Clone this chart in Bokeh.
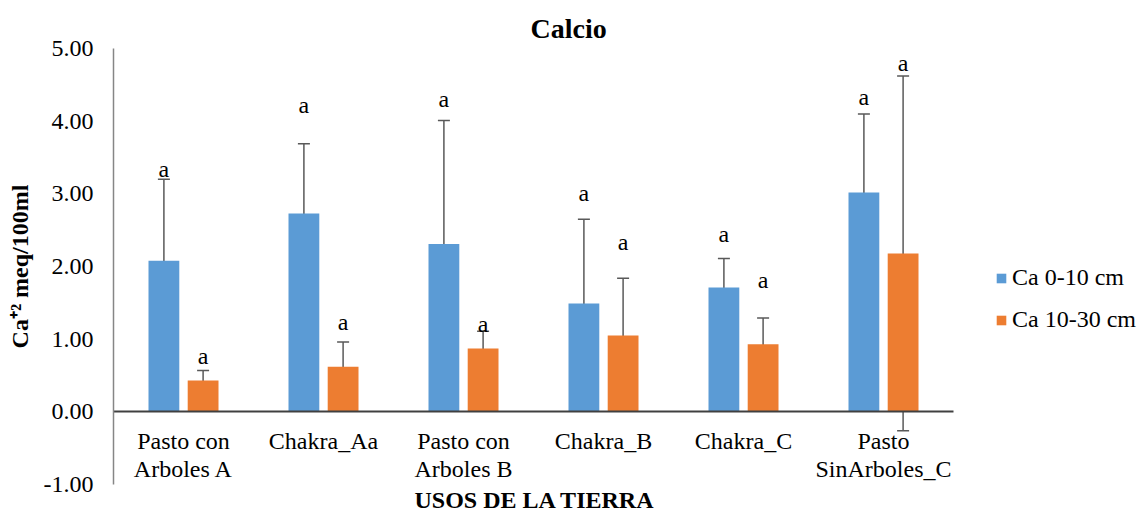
from bokeh.plotting import figure
from bokeh.models import (Range1d, FixedTicker, NumeralTickFormatter, Whisker,
                          ColumnDataSource, Title, Legend, TeeHead)
from bokeh.transform import dodge
from bokeh.core.properties import value
from bokeh.embed import file_html
from bokeh.resources import INLINE

# ---- data ----
categories = ["Pasto con\nArboles A", "Chakra_Aa", "Pasto con\nArboles B",
              "Chakra_B", "Chakra_C", "Pasto\nSinArboles_C"]
ca_0_10 = [2.08, 2.73, 2.31, 1.49, 1.71, 3.02]
ca_0_10_sd = [1.12, 0.96, 1.70, 1.16, 0.40, 1.08]
ca_10_30 = [0.43, 0.62, 0.87, 1.05, 0.93, 2.18]
ca_10_30_sd = [0.14, 0.34, 0.24, 0.79, 0.36, 2.44]
letters_0_10 = ["a", "a", "a", "a", "a", "a"]
letters_10_30 = ["a", "a", "a", "a", "a", "a"]
letter_y_0_10 = [3.32, 4.19, 4.28, 2.98, 2.42, 4.31]
letter_y_10_30 = [0.74, 1.21, 1.18, 2.31, 1.78, 4.77]
y_ticks = [-1, 0, 1, 2, 3, 4, 5]
series_names = ["Ca 0-10 cm", "Ca 10-30 cm"]

FONT = "Liberation Serif"
BLUE = "#5B9BD5"
ORANGE = "#ED7D31"
ERR = "#595959"

W_TOTAL, H_TOTAL = 1139, 513
LEFT, TOP, BOTTOM = 113, 48, 29
PLOT_W = 840  # width used by the categories

n = len(categories)
centers = [i + 0.5 for i in range(n)]
frame_w = W_TOTAL - LEFT
x_end = n * frame_w / PLOT_W

src = ColumnDataSource(dict(
    x=centers,
    v1=ca_0_10, v2=ca_10_30,
    up1=[v + s for v, s in zip(ca_0_10, ca_0_10_sd)],
    lo1=[v - s for v, s in zip(ca_0_10, ca_0_10_sd)],
    up2=[v + s for v, s in zip(ca_10_30, ca_10_30_sd)],
    lo2=[v - s for v, s in zip(ca_10_30, ca_10_30_sd)],
    t1=letters_0_10, t2=letters_10_30,
    ly1=letter_y_0_10, ly2=letter_y_10_30,
))

p = figure(x_range=Range1d(0, x_end), y_range=Range1d(-1, 5),
           width=W_TOTAL, height=H_TOTAL, output_backend="svg", toolbar_location=None,
           min_border_left=LEFT, min_border_right=0, min_border_top=TOP,
           min_border_bottom=BOTTOM)
p.outline_line_color = None
p.xgrid.visible = False
p.ygrid.visible = False

p.title.text = "Calcio"
p.title.text_font = FONT
p.title.text_font_size = "28px"
p.title.align = "left"
p.title.offset = 417
p.title.standoff = 10
p.title.text_color = "black"

OFF = 0.14
W = 0.22
r1 = p.vbar(x=dodge("x", -OFF), top="v1", width=W, source=src,
            fill_color=BLUE, line_color=None)
r2 = p.vbar(x=dodge("x", OFF), top="v2", width=W, source=src,
            fill_color=ORANGE, line_color=None)

for base, up, lo in [(dodge("x", -OFF), "up1", "lo1"),
                     (dodge("x", OFF), "up2", "lo2")]:
    w = Whisker(base=base, upper=up, lower=lo, source=src, line_color=ERR, line_width=1.5,
                upper_head=TeeHead(size=12, line_color=ERR, line_width=1.5),
                lower_head=TeeHead(size=12, line_color=ERR, line_width=1.5))
    p.add_layout(w)

for xo, ly, t in [(-OFF, "ly1", "t1"), (OFF, "ly2", "t2")]:
    p.text(x=dodge("x", xo), y=ly, text=t, source=src,
           text_font=value(FONT), text_font_size="24px", text_align="center",
           text_baseline="middle", text_color="black", y_offset=-2)

# y axis
p.yaxis.ticker = FixedTicker(ticks=y_ticks)
p.yaxis.formatter = NumeralTickFormatter(format="0.00")
p.yaxis.major_label_text_font = FONT
p.yaxis.major_label_text_font_size = "24px"
p.yaxis.major_label_text_color = "black"
p.yaxis.major_tick_line_color = None
p.yaxis.minor_tick_line_color = None
p.yaxis.major_tick_out = 0
p.yaxis.major_tick_in = 0
p.yaxis.major_label_standoff = 20
p.yaxis.axis_line_color = "#868686"
p.yaxis.axis_line_width = 1.5
p.yaxis.axis_label = "Ca\u207a\u00b2 meq/100ml"
p.yaxis.axis_label_text_font = FONT
p.yaxis.axis_label_text_font_size = "24px"
p.yaxis.axis_label_text_font_style = "bold"
p.yaxis.axis_label_text_color = "black"
p.yaxis.axis_label_standoff = 8

# x axis at zero
p.xaxis.fixed_location = 0
p.xaxis.bounds = (0, n)
p.xaxis.ticker = FixedTicker(ticks=centers)
p.xaxis.major_label_overrides = {c: lab for c, lab in zip(centers, categories)}
p.xaxis.axis_line_color = "#404040"
p.xaxis.axis_line_width = 2
p.xaxis.major_tick_line_color = None
p.xaxis.minor_tick_line_color = None
p.xaxis.major_tick_out = 0
p.xaxis.major_tick_in = 0
p.xaxis.major_label_standoff = 16
p.xaxis.major_label_text_font = FONT
p.xaxis.major_label_text_font_size = "24px"
p.xaxis.major_label_text_color = "black"
p.xaxis.major_label_text_line_height = 1.1
p.xaxis.major_label_orientation = "horizontal"

p.add_layout(Title(text="USOS DE LA TIERRA", align="left", offset=301, text_font=FONT,
                   text_font_size="24px", text_font_style="bold", text_color="black",
                   standoff=0), "below")

legend = Legend(items=[(series_names[0], [r1]), (series_names[1], [r2])],
                location=(882, 151), orientation="vertical",
                glyph_width=12, glyph_height=12, label_standoff=5,
                label_text_font=FONT, label_text_font_size="24px", label_text_color="black",
                padding=0, margin=0, spacing=15,
                border_line_color=None, background_fill_alpha=0)
p.add_layout(legend)

open("out.html", "w").write(file_html(p, INLINE))
